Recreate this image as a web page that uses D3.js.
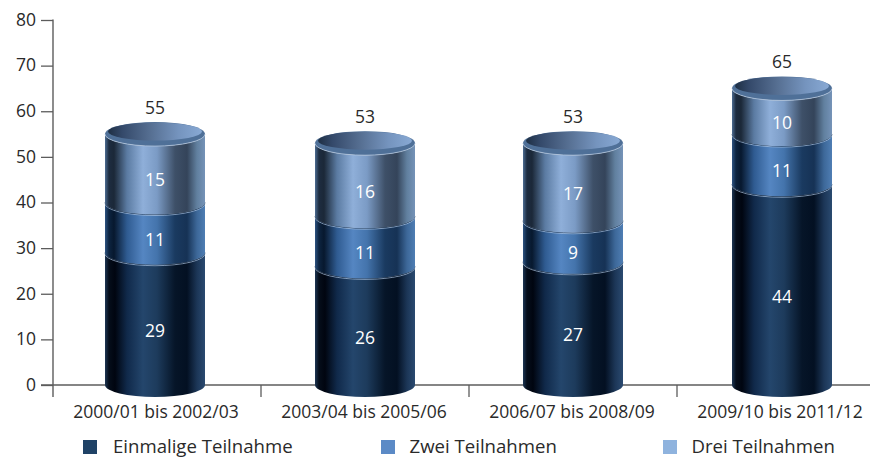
<!DOCTYPE html>
<html>
<head>
<meta charset="utf-8">
<script src="https://cdn.jsdelivr.net/npm/d3@7/dist/d3.min.js"></script>
<style>
html,body{margin:0;padding:0;background:#fff}
svg{display:block}
text{font-family:"Open Sans",sans-serif;font-size:17.5px;fill:#2a2a2a}
text.lg{font-size:18.6px}
</style>
</head>
<body>
<svg id="chart" width="870" height="458"></svg>
<script>
const periods = ["2000/01 bis 2002/03","2003/04 bis 2005/06","2006/07 bis 2008/09","2009/10 bis 2011/12"];
const seriesNames = ["Einmalige Teilnahme","Zwei Teilnahmen","Drei Teilnahmen"];
const einmalig = [29,26,27,44];
const zwei = [11,11,9,11];
const drei = [15,16,17,10];
const totals = [55,53,53,65];
const yTicks = [0,10,20,30,40,50,60,70,80];
const legendColors = ["#1f4266","#5b8ac6","#8fb3de"];

// Horizontal shading of each cylinder section: [offset %, colour]
const shades = [
  [[0,"#1d3654"],[4,"#050d1a"],[10,"#000510"],[22,"#10294a"],[38,"#24466c"],[52,"#1d3b5c"],[70,"#061528"],[82,"#031022"],[92,"#1c3657"],[100,"#2a4a70"]],
  [[0,"#2d5382"],[4,"#0d2440"],[9,"#07182e"],[22,"#2f5b91"],[38,"#5586c2"],[52,"#4474ac"],[70,"#1a3a60"],[82,"#163255"],[92,"#3d6899"],[100,"#4f7eb4"]],
  [[0,"#4c6c92"],[4,"#1d2c40"],[9,"#1b2838"],[22,"#5b7ba2"],[38,"#8fafd9"],[52,"#7b9bc5"],[70,"#3e5068"],[82,"#34445a"],[92,"#61809f"],[100,"#7593b8"]]
];
const capShade = [[0,"#1e2f44"],[15,"#34496a"],[45,"#566f92"],[75,"#7594be"],[100,"#88a9d4"]];

const svg = d3.select("#chart");
const x = d3.scaleBand().domain(periods).range([53,885]);
const y = d3.scaleLinear().domain([0,80]).range([385,20]);
const rx = 50, ry = 12;

const defs = svg.append("defs");
function gradient(id, stops){
  const g = defs.append("linearGradient").attr("id",id).attr("x1","0").attr("x2","1").attr("y1","0").attr("y2","0");
  g.selectAll("stop").data(stops).join("stop")
    .attr("offset",d=>d[0]+"%").attr("stop-color",d=>d[1]);
}
shades.forEach((s,i)=>gradient("section"+i,s));
gradient("cap",capShade);

// Axes
const axisColor = "#5c5c5c";
const yAxis = d3.axisLeft(y).tickValues(yTicks).tickSize(12).tickPadding(5);
const gy = svg.append("g").attr("transform","translate(53,0)").call(yAxis);
gy.attr("font-family",null).attr("font-size",null);
gy.select(".domain").attr("stroke",axisColor).attr("stroke-width",1.4).attr("d","M0,19.5V397");
gy.selectAll(".tick line").attr("stroke",axisColor).attr("stroke-width",1.3);
gy.selectAll(".tick text").attr("dy","0.3em");

const gx = svg.append("g");
gx.append("line").attr("x1",41).attr("x2",870).attr("y1",y(0)).attr("y2",y(0)).attr("stroke",axisColor).attr("stroke-width",1.3);
gx.selectAll("line.sep").data(periods.slice(1)).join("line").attr("class","sep")
  .attr("x1",d=>x(d)).attr("x2",d=>x(d)).attr("y1",y(0)).attr("y2",397).attr("stroke",axisColor).attr("stroke-width",1.3);
gx.selectAll("text").data(periods).join("text")
  .attr("x",d=>x(d)+x.bandwidth()/2-1).attr("y",418).attr("text-anchor","middle").text(d=>d);

// Path of a cylinder wall between two value heights
function wall(cx,y0,y1){
  return `M${cx-rx},${y1}A${rx},${ry} 0 0 0 ${cx+rx},${y1}L${cx+rx},${y0}A${rx},${ry} 0 0 1 ${cx-rx},${y0}Z`;
}
function frontArc(cx,yy){
  return `M${cx-rx},${yy}A${rx},${ry} 0 0 0 ${cx+rx},${yy}`;
}

const offsets = [-2,0,0,1];
periods.forEach((p,i)=>{
  const cx = x(p)+x.bandwidth()/2+offsets[i];
  const g = svg.append("g");
  const vals = [einmalig[i],zwei[i],drei[i]];
  let base = 0;
  vals.forEach((v,k)=>{
    const yb = y(base), yt = y(base+v);
    g.append("path").attr("d",wall(cx,yb,yt)).attr("fill",`url(#section${k})`);
    // Joint between sections: soft band above a dark line with a pale edge under it
    if(k<2){
      g.append("path").attr("d",frontArc(cx,yt-3)).attr("fill","none")
        .attr("stroke","#fff").attr("stroke-opacity",0.1).attr("stroke-width",5);
      g.append("path").attr("d",frontArc(cx,yt+1)).attr("fill","none")
        .attr("stroke","#a9c0de").attr("stroke-width",0.9).attr("stroke-opacity",0.8);
      g.append("path").attr("d",frontArc(cx,yt)).attr("fill","none")
        .attr("stroke","#0f2138").attr("stroke-width",0.9).attr("stroke-opacity",0.8);
    }
    g.append("text").attr("x",cx).attr("y",(yb+yt)/2+18).attr("text-anchor","middle")
      .style("fill","#fff").text(v);
    base += v;
  });
  const yt = y(base);
  // Lid: outer lip, pale front edge and recessed top
  g.append("ellipse").attr("cx",cx).attr("cy",yt).attr("rx",rx).attr("ry",ry).attr("fill","#4f7098");
  g.append("path").attr("d",frontArc(cx,yt)).attr("fill","none")
    .attr("stroke","#b9cbe2").attr("stroke-width",0.9).attr("stroke-opacity",0.8);
  g.append("ellipse").attr("cx",cx).attr("cy",yt-2.5).attr("rx",rx-3).attr("ry",ry-3).attr("fill","url(#cap)");
  g.append("text").attr("x",cx).attr("y",y(totals[i])-20).attr("text-anchor","middle").text(totals[i]);
});

// Legend
const legendX = [83,381,663];
const legendTextX = [113,409.5,691.5];
seriesNames.forEach((n,i)=>{
  svg.append("rect").attr("x",legendX[i]).attr("y",440).attr("width",14).attr("height",14).attr("fill",legendColors[i]);
  svg.append("text").attr("class","lg").attr("x",legendTextX[i]).attr("y",453).text(n);
});
</script>
</body>
</html>
